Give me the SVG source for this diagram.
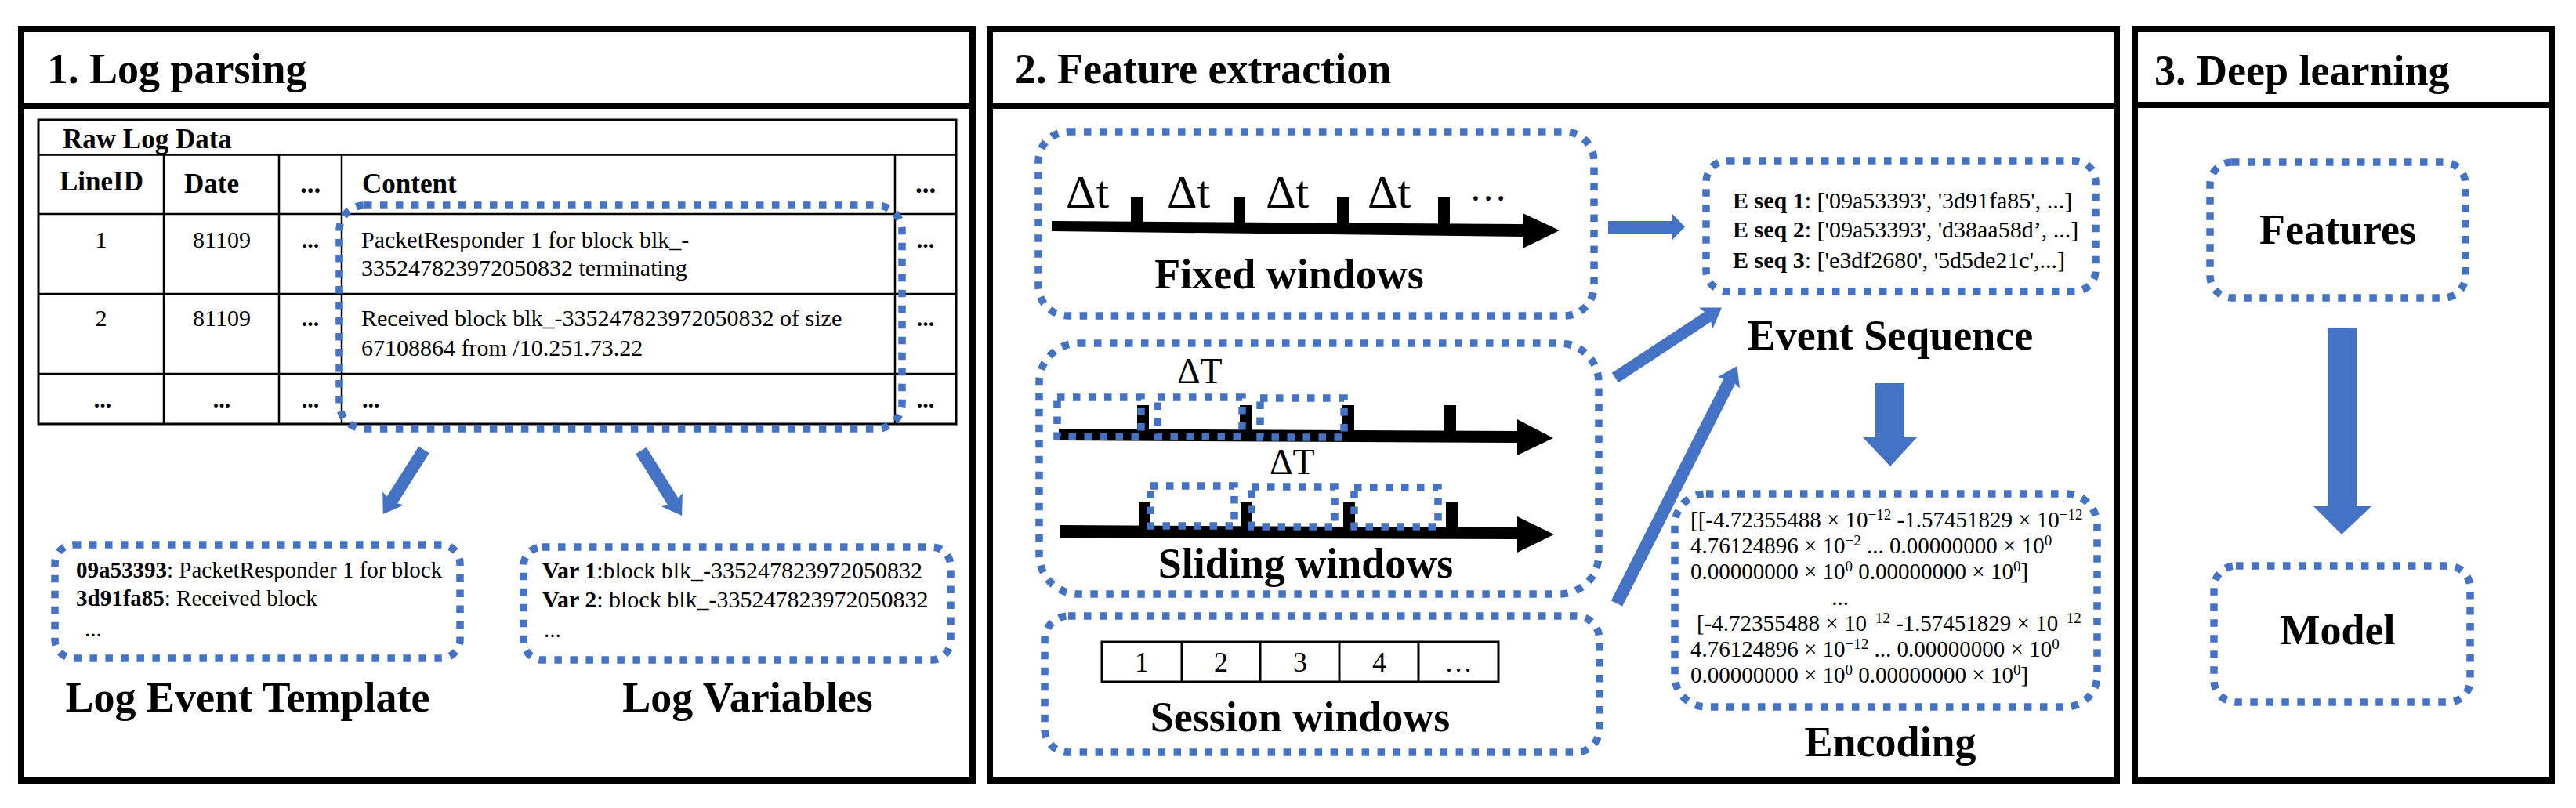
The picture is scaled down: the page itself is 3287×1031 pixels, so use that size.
<svg xmlns="http://www.w3.org/2000/svg" width="3287" height="1031" viewBox="0 0 3287 1031" font-family="'Liberation Serif', 'DejaVu Serif', serif">
<style>
text{font-family:'Liberation Serif','DejaVu Serif',serif;fill:#000}
.frame{fill:#fff;stroke:#000;stroke-width:8}
.sep{stroke:#000;stroke-width:8}
.tb{fill:none;stroke:#000;stroke-width:3}
.tl{stroke:#000;stroke-width:2.5}
.dot{fill:none;stroke:#4472C4;stroke-width:9.5;stroke-dasharray:9.5 10.5}
.blue{fill:#4472C4}
.blk{fill:#000}
.title{font-size:54px;font-weight:bold}
.lbl{font-size:54px;font-weight:bold;text-anchor:middle}
.hd{font-size:35px;font-weight:bold}
.c30{font-size:30px}
.c29{font-size:29px}
.mid{text-anchor:middle}
.b{font-weight:bold}
.arr{stroke:#4472C4;fill:none}
</style>
<defs>
<marker id="ah" markerUnits="userSpaceOnUse" markerWidth="24" markerHeight="32" viewBox="0 0 24 32" refX="5" refY="16" orient="auto">
<path d="M0,0 L24,16 L0,32 L5,16 z" fill="#4472C4"/>
</marker>
</defs>
<rect width="3287" height="1031" fill="#fff"/>

<g id="panel-log-parsing">
<rect class="frame" x="27" y="37" width="1214" height="959"/>
<line class="sep" x1="27" y1="135" x2="1241" y2="135"/>
<text class="title" x="60" y="106">1. Log parsing</text>
</g>
<g id="panel-feature-extraction">
<rect class="frame" x="1263" y="37" width="1438" height="959"/>
<line class="sep" x1="1263" y1="135" x2="2701" y2="135"/>
<text class="title" x="1295" y="106">2. Feature extraction</text>
</g>
<g id="panel-deep-learning">
<rect class="frame" x="2724" y="37" width="532" height="959"/>
<line class="sep" x1="2724" y1="134" x2="3256" y2="134"/>
<text class="title" x="2749" y="108">3. Deep learning</text>
</g>

<g id="raw-log-data">
<rect class="tb" x="49" y="153" width="1171" height="388"/>
<line class="tl" x1="49" y1="197.5" x2="1220" y2="197.5"/>
<line class="tl" x1="49" y1="273" x2="1220" y2="273"/>
<line class="tl" x1="49" y1="375" x2="1220" y2="375"/>
<line class="tl" x1="49" y1="477" x2="1220" y2="477"/>
<line class="tl" x1="209" y1="197.5" x2="209" y2="541"/>
<line class="tl" x1="356" y1="197.5" x2="356" y2="541"/>
<line class="tl" x1="436" y1="197.5" x2="436" y2="541"/>
<line class="tl" x1="1142" y1="197.5" x2="1142" y2="541"/>
<text class="hd" x="80" y="189">Raw Log Data</text>
<text class="hd" x="76" y="243">LineID</text>
<text class="hd" x="235" y="246">Date</text>
<text class="hd mid" x="396" y="246">...</text>
<text class="hd" x="462" y="246">Content</text>
<text class="hd mid" x="1181" y="246">...</text>
<text class="c30 mid" x="129" y="316">1</text>
<text class="c30 mid" x="283" y="316">81109</text>
<text class="c30 mid b" x="396" y="316">...</text>
<text class="c30" x="461" y="316">PacketResponder 1 for block blk_-</text>
<text class="c30" x="461" y="352">335247823972050832 terminating</text>
<text class="c30 mid b" x="1181" y="316">...</text>
<text class="c30 mid" x="129" y="416">2</text>
<text class="c30 mid" x="283" y="416">81109</text>
<text class="c30 mid b" x="396" y="416">...</text>
<text class="c30" x="461" y="416">Received block blk_-335247823972050832 of size</text>
<text class="c30" x="461" y="454">67108864 from /10.251.73.22</text>
<text class="c30 mid b" x="1181" y="416">...</text>
<text class="c30 mid b" x="131" y="520">...</text>
<text class="c30 mid b" x="283" y="520">...</text>
<text class="c30 mid b" x="396" y="520">...</text>
<text class="c30 b" x="462" y="520">...</text>
<text class="c30 mid b" x="1181" y="520">...</text>
<rect class="dot" x="433" y="262" width="718" height="285" rx="32"/>
</g>

<g id="log-event-template">
<rect class="dot" x="70" y="695" width="517" height="145" rx="24"/>
<text class="c29" x="97" y="737"><tspan class="b">09a53393</tspan>: PacketResponder 1 for block</text>
<text class="c29" x="97" y="773"><tspan class="b">3d91fa85</tspan>: Received block</text>
<text class="c29" x="108" y="812">...</text>
<text class="lbl" x="316" y="908">Log Event Template</text>
</g>

<g id="log-variables">
<rect class="dot" x="668" y="698" width="545" height="144" rx="24"/>
<text class="c30" x="692" y="738"><tspan class="b">Var 1</tspan>:block blk_-335247823972050832</text>
<text class="c30" x="692" y="775"><tspan class="b">Var 2</tspan>: block blk_-335247823972050832</text>
<text class="c29" x="694" y="813">...</text>
<text class="lbl" x="954" y="908">Log Variables</text>
</g>

<g id="fixed-windows">
<rect class="dot" x="1325" y="168" width="709" height="235" rx="38"/>
<polygon class="blk" points="1342,282 1943,286 1943,272 1990,294 1943,317 1943,302 1342,295"/>
<rect class="blk" x="1443" y="252" width="15" height="36"/>
<rect class="blk" x="1574" y="252" width="15" height="36"/>
<rect class="blk" x="1706" y="252" width="15" height="36"/>
<rect class="blk" x="1835" y="252" width="15" height="36"/>
<text x="1360" y="265" font-size="60">Δt</text>
<text x="1489" y="265" font-size="60">Δt</text>
<text x="1615" y="265" font-size="60">Δt</text>
<text x="1745" y="265" font-size="60">Δt</text>
<text x="1875" y="256" font-size="48">…</text>
<text class="lbl" x="1645" y="368">Fixed windows</text>
</g>

<g id="sliding-windows">
<rect class="dot" x="1326" y="438" width="714" height="320" rx="50"/>
<polygon class="blk" points="1351,547 1936,550 1936,535 1982,559 1936,581 1936,565 1351,562"/>
<rect class="blk" x="1451" y="517" width="15" height="35"/>
<rect class="blk" x="1582" y="517" width="15" height="35"/>
<rect class="blk" x="1713" y="517" width="15" height="35"/>
<rect class="blk" x="1843" y="517" width="15" height="35"/>
<polygon class="blk" points="1352,670 1936,673 1936,659 1983,682 1936,705 1936,688 1352,686"/>
<rect class="blk" x="1453" y="641" width="15" height="35"/>
<rect class="blk" x="1583" y="641" width="15" height="35"/>
<rect class="blk" x="1714" y="641" width="15" height="35"/>
<rect class="blk" x="1845" y="641" width="15" height="35"/>
<rect class="dot" x="1349" y="507" width="107" height="50"/>
<rect class="dot" x="1477" y="507" width="108" height="50"/>
<rect class="dot" x="1608" y="508" width="107" height="50"/>
<rect class="dot" x="1468" y="620" width="107" height="51"/>
<rect class="dot" x="1597" y="621" width="106" height="51"/>
<rect class="dot" x="1728" y="622" width="107" height="50"/>
<text x="1502" y="489" font-size="46">ΔT</text>
<text x="1620" y="605" font-size="46">ΔT</text>
<text class="lbl" x="1666" y="737">Sliding windows</text>
</g>

<g id="session-windows">
<rect class="dot" x="1333" y="786" width="708" height="174" rx="30"/>
<rect class="tb" x="1406" y="819" width="506" height="51"/>
<line class="tb" x1="1508" y1="819" x2="1508" y2="870"/>
<line class="tb" x1="1608" y1="819" x2="1608" y2="870"/>
<line class="tb" x1="1709" y1="819" x2="1709" y2="870"/>
<line class="tb" x1="1810" y1="819" x2="1810" y2="870"/>
<text class="mid" x="1457" y="857" font-size="36">1</text>
<text class="mid" x="1558" y="857" font-size="36">2</text>
<text class="mid" x="1659" y="857" font-size="36">3</text>
<text class="mid" x="1760" y="857" font-size="36">4</text>
<text class="mid" x="1861" y="857" font-size="36">…</text>
<text class="lbl" x="1659" y="933">Session windows</text>
</g>

<g id="event-sequence">
<rect class="dot" x="2177" y="205" width="497" height="167" rx="27"/>
<text class="c30" x="2211" y="266"><tspan class="b">E seq 1</tspan>: ['09a53393', '3d91fa85', ...]</text>
<text class="c30" x="2211" y="303"><tspan class="b">E seq 2</tspan>: ['09a53393', 'd38aa58d’, ...]</text>
<text class="c30" x="2211" y="342"><tspan class="b">E seq 3</tspan>: ['e3df2680', '5d5de21c',...]</text>
<text class="lbl" x="2412" y="446">Event Sequence</text>
</g>

<g id="encoding">
<rect class="dot" x="2137" y="630" width="539" height="272" rx="40"/>
<text class="c29" x="2157" y="673">[[-4.72355488 × 10<tspan font-size="19" baseline-shift="super">−12</tspan> -1.57451829 × 10<tspan font-size="19" baseline-shift="super">−12</tspan></text>
<text class="c29" x="2157" y="706">4.76124896 × 10<tspan font-size="19" baseline-shift="super">−2</tspan> ...  0.00000000 × 10<tspan font-size="19" baseline-shift="super">0</tspan></text>
<text class="c29" x="2157" y="739">0.00000000 × 10<tspan font-size="19" baseline-shift="super">0</tspan>  0.00000000 × 10<tspan font-size="19" baseline-shift="super">0</tspan>]</text>
<text class="c29 mid" x="2348" y="772">...</text>
<text class="c29" x="2165" y="805">[-4.72355488 × 10<tspan font-size="19" baseline-shift="super">−12</tspan> -1.57451829 × 10<tspan font-size="19" baseline-shift="super">−12</tspan></text>
<text class="c29" x="2157" y="838">4.76124896 × 10<tspan font-size="19" baseline-shift="super">−12</tspan> ...  0.00000000 × 10<tspan font-size="19" baseline-shift="super">0</tspan></text>
<text class="c29" x="2157" y="871">0.00000000 × 10<tspan font-size="19" baseline-shift="super">0</tspan>  0.00000000 × 10<tspan font-size="19" baseline-shift="super">0</tspan>]</text>
<text class="lbl" x="2412" y="965">Encoding</text>
</g>

<g id="features">
<rect class="dot" x="2820" y="207" width="326" height="173" rx="28"/>
<text class="lbl" x="2983" y="311">Features</text>
</g>

<g id="model">
<rect class="dot" x="2825" y="722" width="327" height="174" rx="28"/>
<text class="lbl" x="2983" y="822">Model</text>
</g>

<g id="connectors">
<line class="arr" x1="541" y1="574" x2="499" y2="640" stroke-width="16" marker-end="url(#ah)"/>
<line class="arr" x1="818" y1="575" x2="860" y2="642" stroke-width="16" marker-end="url(#ah)"/>
<polygon class="blue" points="2052,282 2134,282 2134,273 2150,289.5 2134,306 2134,298 2052,298"/>
<line class="arr" x1="2061" y1="482" x2="2181" y2="403" stroke-width="15" marker-end="url(#ah)"/>
<line class="arr" x1="2063" y1="770" x2="2208" y2="484" stroke-width="16" marker-end="url(#ah)"/>
<polygon class="blue" points="2393,489 2430,489 2430,557 2447,557 2412,595 2376,557 2393,557"/>
<polygon class="blue" points="2970,419 3007,419 3007,646 3026,646 2988,682 2952,646 2970,646"/>
</g>
</svg>
